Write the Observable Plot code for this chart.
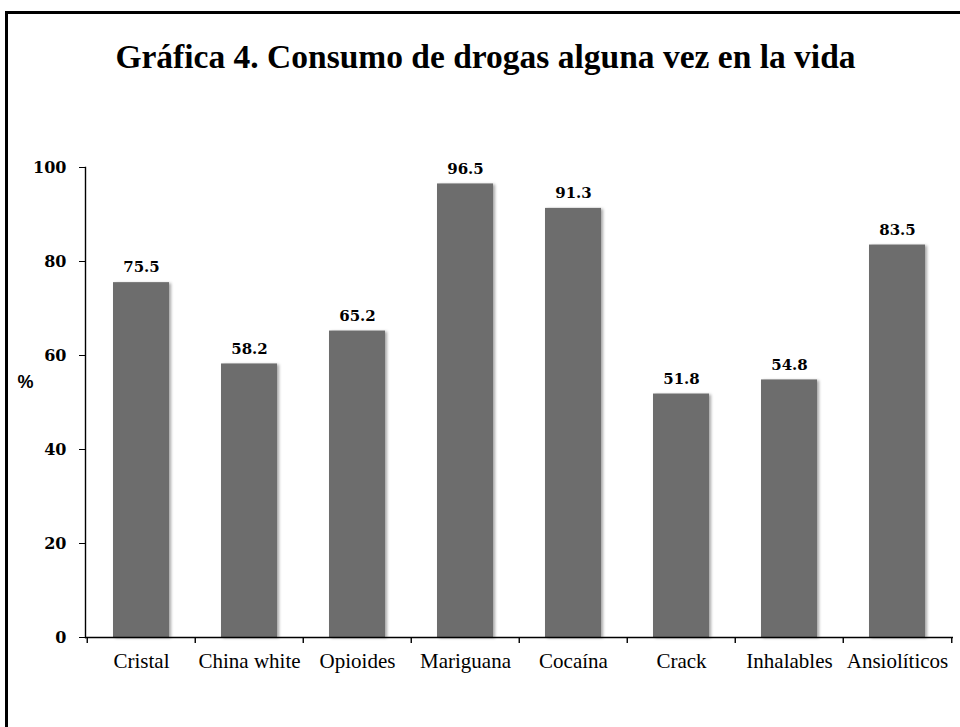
<!DOCTYPE html>
<html>
<head>
<meta charset="utf-8">
<script src="https://cdn.jsdelivr.net/npm/d3@7"></script>
<script src="https://cdn.jsdelivr.net/npm/@observablehq/plot@0.6"></script>
<style>
  html, body { margin: 0; padding: 0; background: #fff; }
  body { width: 960px; height: 727px; position: relative; overflow: hidden; }
  #frame { position: absolute; left: 5px; top: 11px; width: 1000px; height: 800px;
           border-left: 3px solid #000; border-top: 3px solid #000; box-sizing: border-box; }
  #title { position: absolute; left: 0; width: 971px; top: 40px; text-align: center;
           font-family: "Liberation Serif", serif; font-weight: bold; font-size: 33.5px;
           line-height: 1; color: #000; margin: 0; }
  #chart { position: absolute; left: 0; top: 120px; }
  #chart g[aria-label="bar"] { filter: drop-shadow(2px 1px 1.5px rgba(0,0,0,0.35)); }
</style>
</head>
<body>
<div id="frame"></div>
<h1 id="title">Gráfica 4. Consumo de drogas alguna vez en la vida</h1>
<div id="chart"></div>
<script>
const categories = ["Cristal", "China white", "Opioides", "Mariguana", "Cocaína", "Crack", "Inhalables", "Ansiolíticos"];
const values = [75.5, 58.2, 65.2, 96.5, 91.3, 51.8, 54.8, 83.5];
const yTicks = [0, 20, 40, 60, 80, 100];
const yLabel = "%";

const data = categories.map((c, i) => ({category: c, value: values[i]}));
const step = (960 - 85 - 7) / categories.length;

const plot = Plot.plot({
  width: 960,
  height: 607,
  marginTop: 47,
  marginBottom: 90,
  marginLeft: 85,
  marginRight: 7,
  style: {background: "transparent", color: "#000"},
  x: {domain: categories, paddingInner: 0.484, paddingOuter: 0.242, label: null},
  y: {domain: [0, 100], label: null},
  marks: [
    Plot.barY(data, {x: "category", y: "value", fill: "#6d6d6d"}),
    Plot.ruleY([0], {stroke: "#000", strokeWidth: 1.4}),
    Plot.frame({anchor: "left", stroke: "#000", strokeWidth: 1.4}),
    Plot.axisY({ticks: yTicks, tickSize: 6, tickPadding: 13, label: null,
      fontFamily: "DejaVu Serif", fontWeight: "bold", fontSize: 16, stroke: "#000"}),
    Plot.axisX({tickSize: 0, tickPadding: 16, label: null,
      fontFamily: "Liberation Serif", fontSize: 21}),
    Plot.axisX({tickSize: 6, tickFormat: () => "", label: null, dx: -step / 2, strokeWidth: 1.4}),
    Plot.axisX({ticks: [categories[categories.length - 1]], tickSize: 6, tickFormat: () => "", label: null, dx: step / 2, strokeWidth: 1.4}),
    Plot.text(data, {x: "category", y: "value", text: d => d.value.toFixed(1), dy: -15,
      fontFamily: "DejaVu Serif", fontWeight: "bold", fontSize: 15, fill: "#000"}),
    Plot.text([yLabel], {frameAnchor: "left", text: d => d, dx: -60, dy: -20, textAnchor: "middle",
      fontFamily: "Liberation Sans", fontWeight: "bold", fontSize: 18, fill: "#000"})
  ]
});
document.getElementById("chart").appendChild(plot);
</script>
</body>
</html>
